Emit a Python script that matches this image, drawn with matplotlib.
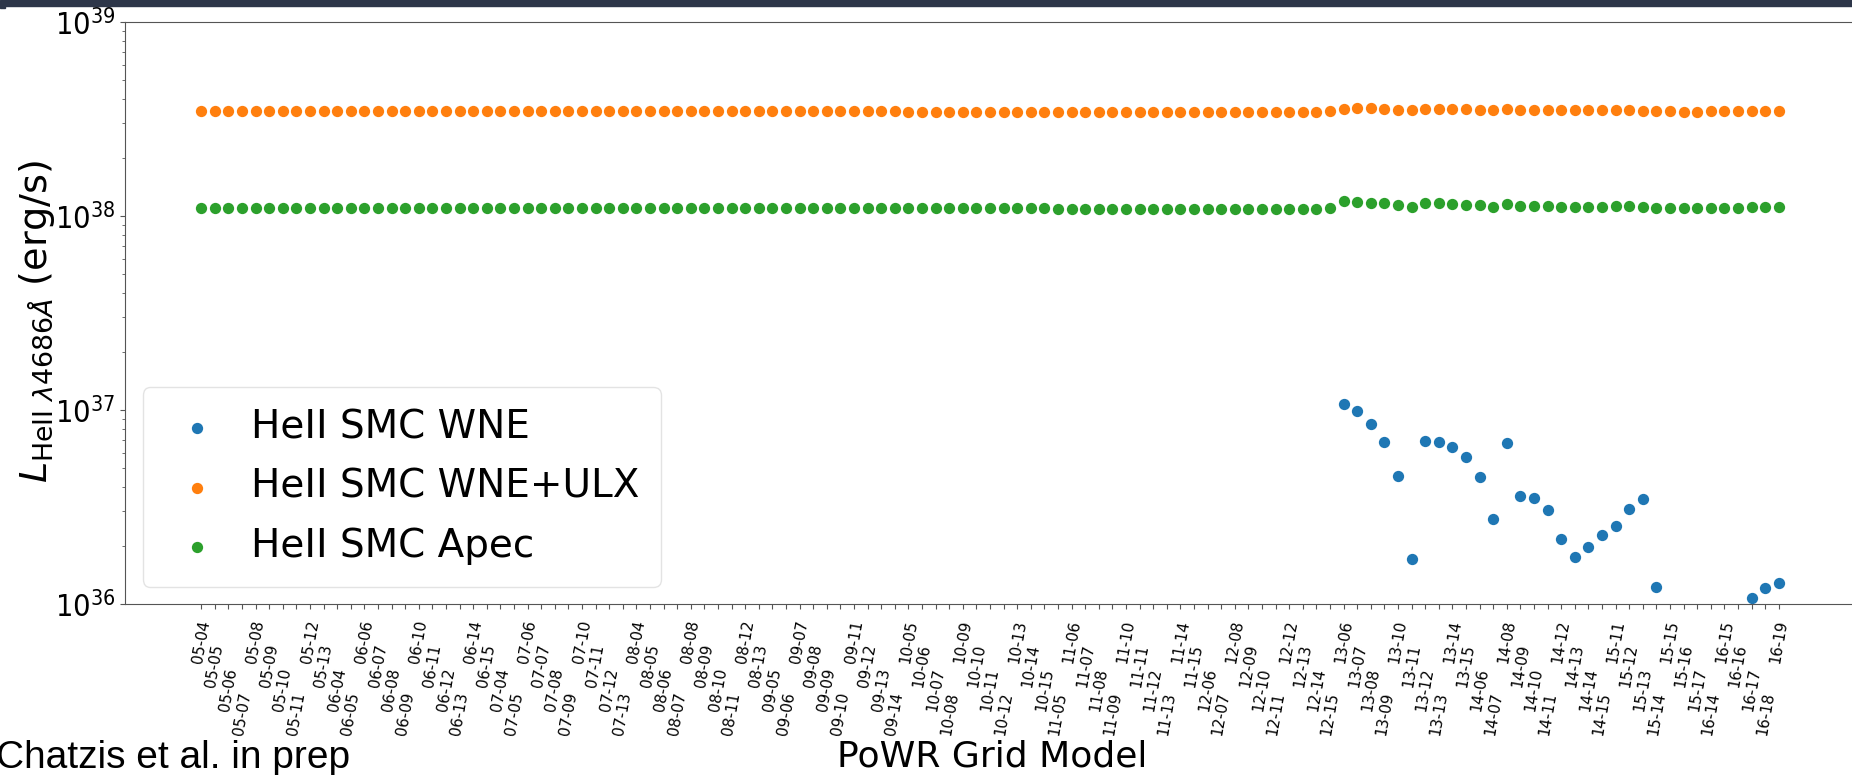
import numpy as np
import matplotlib
matplotlib.use("Agg")
import matplotlib.pyplot as plt
from matplotlib.patches import Rectangle
from matplotlib.font_manager import FontProperties

# PoWR grid models: (T-index, first log-g index, last log-g index)
grid_blocks = [(5, 4, 13), (6, 4, 15), (7, 4, 13), (8, 4, 13), (9, 5, 14),
               (10, 5, 15), (11, 5, 15), (12, 6, 15), (13, 6, 15), (14, 6, 15),
               (15, 11, 17), (16, 14, 19)]
models = [f"{t:02d}-{g:02d}" for t, lo, hi in grid_blocks for g in range(lo, hi + 1)]

# HeII 4686 luminosity, WNE stars alone (units of 1e36 erg/s; nan = not detected)
wne = [np.nan] * 84 + [
    10.7, 9.85, 8.51, 6.84, 4.59, 1.71, 6.90, 6.82, 6.43, 5.75,   # 13-06 .. 13-15
    4.52, 2.73, 6.74, 3.61, 3.52, 3.06, 2.16, 1.74, 1.96, 2.26,   # 14-06 .. 14-15
    2.52, 3.08, 3.48, 1.23, np.nan, np.nan, np.nan,               # 15-11 .. 15-17
    np.nan, np.nan, np.nan, 1.07, 1.21, 1.28,                     # 16-14 .. 16-19
]

# WNE + ULX irradiation (units of 1e38 erg/s)
wne_ulx = [
    3.46, 3.46, 3.46, 3.46, 3.46, 3.46, 3.46, 3.46, 3.46, 3.46,
    3.46, 3.46, 3.46, 3.46, 3.46, 3.46, 3.46, 3.46, 3.46, 3.46, 3.46, 3.46,
    3.46, 3.46, 3.46, 3.46, 3.46, 3.46, 3.46, 3.46, 3.46, 3.46,
    3.46, 3.46, 3.46, 3.46, 3.46, 3.46, 3.46, 3.46, 3.46, 3.46,
    3.46, 3.46, 3.46, 3.46, 3.46, 3.46, 3.46, 3.46, 3.46, 3.46,
    3.45, 3.45, 3.45, 3.45, 3.45, 3.45, 3.45, 3.45, 3.45, 3.45, 3.45,
    3.45, 3.45, 3.45, 3.45, 3.45, 3.45, 3.45, 3.45, 3.45, 3.45, 3.45,
    3.45, 3.45, 3.45, 3.45, 3.45, 3.45, 3.45, 3.45, 3.45, 3.46,
    3.58, 3.62, 3.60, 3.58, 3.52, 3.50, 3.58, 3.58, 3.55, 3.55,
    3.53, 3.50, 3.58, 3.52, 3.50, 3.50, 3.50, 3.50, 3.50, 3.50,
    3.50, 3.50, 3.48, 3.47, 3.47, 3.43, 3.43,
    3.47, 3.47, 3.47, 3.47, 3.47, 3.47,
]

# Thermal (APEC) plasma ionising continuum (units of 1e38 erg/s)
apec = [
    1.10, 1.10, 1.10, 1.10, 1.10, 1.10, 1.10, 1.10, 1.10, 1.10,
    1.10, 1.10, 1.10, 1.10, 1.10, 1.10, 1.10, 1.10, 1.10, 1.10, 1.10, 1.10,
    1.10, 1.10, 1.10, 1.10, 1.10, 1.10, 1.10, 1.10, 1.10, 1.10,
    1.10, 1.10, 1.10, 1.10, 1.10, 1.10, 1.10, 1.10, 1.10, 1.10,
    1.10, 1.10, 1.10, 1.10, 1.10, 1.10, 1.10, 1.10, 1.10, 1.10,
    1.10, 1.10, 1.10, 1.10, 1.10, 1.10, 1.10, 1.10, 1.10, 1.10, 1.10,
    1.09, 1.09, 1.09, 1.09, 1.09, 1.09, 1.09, 1.09, 1.09, 1.09, 1.09,
    1.09, 1.09, 1.09, 1.09, 1.09, 1.09, 1.09, 1.09, 1.09, 1.10,
    1.19, 1.18, 1.17, 1.16, 1.135, 1.11, 1.16, 1.16, 1.15, 1.145,
    1.135, 1.115, 1.15, 1.125, 1.125, 1.125, 1.115, 1.11, 1.115, 1.115,
    1.12, 1.125, 1.11, 1.105, 1.105, 1.10, 1.10,
    1.10, 1.105, 1.105, 1.11, 1.11, 1.11,
]

series_labels = ["HeII SMC WNE", "HeII SMC WNE+ULX", "HeII SMC Apec"]
series_colors = ["tab:blue", "tab:orange", "tab:green"]

W, H = 1852, 775
fig = plt.figure(figsize=(W / 100, H / 100), dpi=100)
fig.patch.set_facecolor("white")

# slide header strip
fig.patches.append(Rectangle((0, 1 - 6 / H), 1, 6 / H, transform=fig.transFigure,
                             color="#2d3649", zorder=0))
fig.patches.append(Rectangle((0, 1 - 8 / H), 5 / W, 2 / H, transform=fig.transFigure,
                             color="#2d3649", zorder=0))

ax_l, ax_r, ax_t, ax_b = 125, 1859, 22, 604
ax = fig.add_axes([ax_l / W, 1 - ax_b / H, (ax_r - ax_l) / W, (ax_b - ax_t) / H])

x = np.arange(len(models))
values = [np.array(wne) * 1e36, np.array(wne_ulx) * 1e38, np.array(apec) * 1e38]
for vals, lab, col in zip(values, series_labels, series_colors):
    ax.scatter(x, vals, s=66, color=col, label=lab, linewidths=0)

ax.set_yscale("log")
ax.set_ylim(1e36, 1e39)
ax.set_xlim(-5.6, len(models) - 1 + 5.9)

ax.set_xticks(x)
ax.set_xticklabels(models, rotation=80, fontsize=10.8)
# stagger the crowded model labels over four rows
for i, tick in enumerate(ax.xaxis.get_major_ticks()):
    tick.set_pad(7.5 + 17.3 * (i % 4))

narrow = dict(family="DejaVu Sans", stretch="condensed")
ax.tick_params(axis="y", which="major", color="#555555")
ax.tick_params(axis="y", which="minor", color="#555555")
ax.tick_params(axis="x", color="#555555")
for lbl in ax.get_yticklabels():
    lbl.set_fontproperties(FontProperties(size=22, **narrow))

for side in ("left", "bottom", "top", "right"):
    ax.spines[side].set_color("#555555")

ax.set_ylabel(r"$L_{\mathrm{HeII}\ \lambda4686\AA}$ (erg/s)", fontsize=27.5)
ax.yaxis.set_label_coords(-0.039, 0.485)
ax.set_xlabel("PoWR Grid Model", fontsize=26)
ax.xaxis.set_label_coords(0.5, -0.232)

leg = ax.legend(loc="lower left", fontsize=28, frameon=True, borderaxespad=0.45,
                handlelength=1.7, handletextpad=0.55, borderpad=0.55,
                labelspacing=0.55)
leg.get_frame().set_edgecolor("#dddddd")

fig.text(-4 / W, 1 - 768 / H, "Chatzis et al. in prep", fontsize=28,
         family="Liberation Sans", ha="left", va="baseline")

fig.savefig("out.png", dpi=100)
